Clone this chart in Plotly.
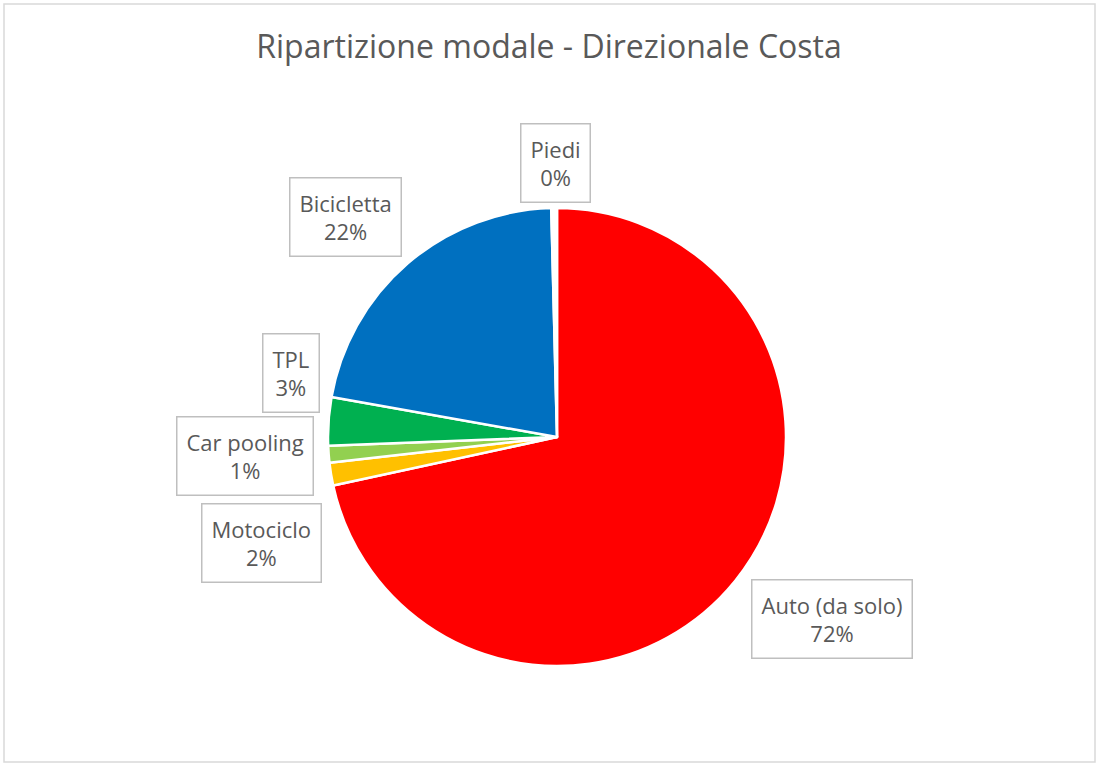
import plotly.graph_objects as go

# Modal split data (share of trips, %)
categories = ["Auto (da solo)", "Motociclo", "Car pooling", "TPL", "Bicicletta", "Piedi"]
shares = [71.6, 1.6, 1.2, 3.4, 21.8, 0.4]
colors = ["#ff0000", "#ffc000", "#92d050", "#00b050", "#0070c0", "#ffffff"]

# Label box centres in pixels (x from left, y from top)
label_pos = {
    "Auto (da solo)": (832, 619),
    "Motociclo": (261, 543),
    "Car pooling": (245, 456),
    "TPL": (291, 373),
    "Bicicletta": (345, 217),
    "Piedi": (555, 163),
}

W, H = 1098, 765
cx, cy, r = 557, 437, 229
text_color = "#595959"
font_family = "'Open Sans', Lato, sans-serif"

fig = go.Figure()
fig.add_trace(go.Pie(
    labels=categories,
    values=shares,
    sort=False,
    direction="clockwise",
    rotation=0,
    marker=dict(colors=colors, line=dict(color="white", width=2.5)),
    textinfo="none",
    hoverinfo="label+percent",
    showlegend=False,
    domain=dict(x=[(cx - r) / W, (cx + r) / W], y=[(H - cy - r) / H, (H - cy + r) / H]),
))

total = sum(shares)
annotations = []
for name, val in zip(categories, shares):
    px, py = label_pos[name]
    pct = round(val / total * 100)
    annotations.append(dict(
        x=px / W, y=1 - py / H, xref="paper", yref="paper",
        xanchor="center", yanchor="middle", showarrow=False,
        text=f"{name}<br>{pct}%",
        font=dict(family=font_family, size=22, color=text_color),
        bordercolor="#bfbfbf", borderwidth=1.5, borderpad=9,
        bgcolor="white", align="center",
    ))

fig.update_layout(
    width=W, height=H,
    margin=dict(l=0, r=0, t=0, b=0),
    paper_bgcolor="white",
    title=dict(
        text="Ripartizione modale - Direzionale Costa",
        x=0.5, xanchor="center", y=1 - 47 / H, yanchor="middle",
        font=dict(family=font_family, size=32, color=text_color),
    ),
    annotations=annotations,
    shapes=[dict(
        type="rect", xref="paper", yref="paper",
        x0=4 / W, x1=1095 / W, y0=1 - 762 / H, y1=1 - 4 / H,
        line=dict(color="#d9d9d9", width=1.5),
    )],
)

fig.write_html("out.html")
